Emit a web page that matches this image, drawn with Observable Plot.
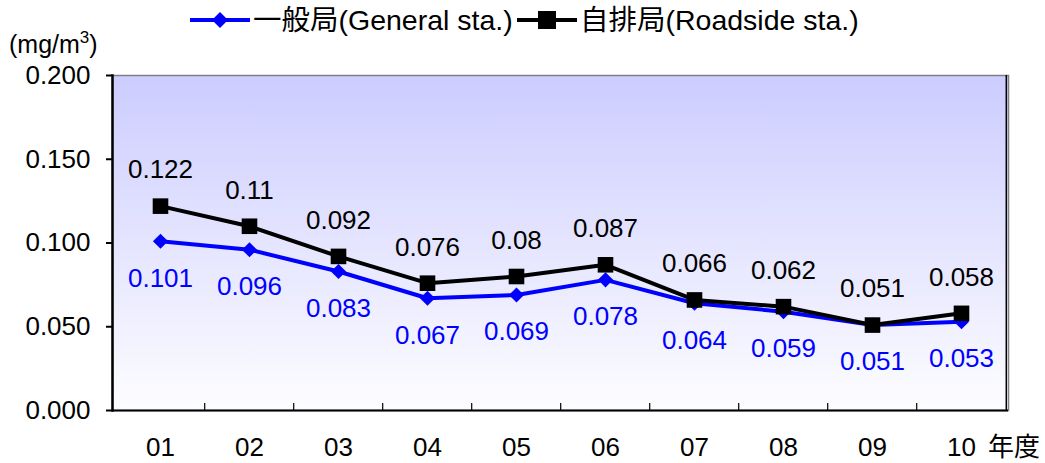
<!DOCTYPE html>
<html><head><meta charset="utf-8">
<script src="https://cdn.jsdelivr.net/npm/d3@7"></script>
<script src="https://cdn.jsdelivr.net/npm/@observablehq/plot@0.6"></script>
<style>
body{margin:0;background:#fff;font-family:"Liberation Sans","Noto Sans CJK JP",sans-serif;}
#wrap{position:relative;width:1045px;height:463px;overflow:hidden;}
.abs{position:absolute;white-space:nowrap;line-height:1;}
</style></head>
<body><div id="wrap"></div>
<script>
const years = ["01","02","03","04","05","06","07","08","09","10"];
const general = [0.101,0.096,0.083,0.067,0.069,0.078,0.064,0.059,0.051,0.053];
const roadside = [0.122,0.11,0.092,0.076,0.08,0.087,0.066,0.062,0.051,0.058];
const yTicks = [0,0.05,0.1,0.15,0.2];
const seriesNames = ["一般局(General sta.)","自排局(Roadside sta.)"];
const unitLabel = "(mg/m<sup>3</sup>)";
const xUnit = "年度";

const data = years.map((y,i)=>({year:y, general:general[i], roadside:roadside[i]}));
const BLUE = "#0000ff", BLACK = "#000000";
const FONT = 26;

const svg = Plot.plot({
  width:1045, height:463,
  marginTop:75, marginBottom:53, marginLeft:112, marginRight:37,
  style:{fontFamily:"Liberation Sans, Noto Sans CJK JP, sans-serif", fontSize:FONT+"px", background:"transparent", overflow:"visible"},
  x:{type:"point", domain:years, padding:0.5},
  y:{domain:[0,0.2]},
  marks:[
    Plot.frame({fill:"url(#bgGrad)", stroke:"#808080", strokeWidth:1.5}),
    Plot.ruleX([years[years.length-1]], {dx:44.8, stroke:"#000", strokeWidth:1.5}),
    Plot.tickX(years.slice(1), {x:d=>d, dx:-44.8, insetTop:328, stroke:"#000", strokeWidth:1.2}),
    Plot.axisY(yTicks, {tickFormat:d3.format(".3f"), tickSize:6, tickPadding:16, fontSize:FONT, label:null, stroke:"#000", strokeWidth:2, fill:"#000"}),
    Plot.axisX(years, {tickSize:0, tickPadding:27, fontSize:FONT, label:null, fill:"#000"}),
    Plot.ruleY([0], {stroke:"#000", strokeWidth:2}),
    Plot.frame({anchor:"left", stroke:"#000", strokeWidth:2.5}),
    Plot.line(data, {x:"year", y:"general", stroke:BLUE, strokeWidth:4}),
    Plot.dot(data, {x:"year", y:"general", symbol:"diamond2", r:6.8, fill:BLUE, stroke:"none"}),
    Plot.line(data, {x:"year", y:"roadside", stroke:BLACK, strokeWidth:4}),
    Plot.dot(data, {x:"year", y:"roadside", symbol:"square", r:8.8, fill:BLACK, stroke:"none"}),
    Plot.text(data, {x:"year", y:"general", text:d=>String(d.general), dy:37, fill:BLUE, fontSize:FONT}),
    Plot.text(data, {x:"year", y:"roadside", text:d=>String(d.roadside), dy:-36, fill:BLACK, fontSize:FONT})
  ]
});
const defs = d3.select(svg).insert("defs", ":first-child");
const g = defs.append("linearGradient").attr("id","bgGrad").attr("x1",0).attr("y1",0).attr("x2",0).attr("y2",1);
g.append("stop").attr("offset","0%").attr("stop-color","#ccccff");
g.append("stop").attr("offset","100%").attr("stop-color","#fdfdff");

const wrap = document.getElementById("wrap");
svg.style.position="absolute"; svg.style.left="0"; svg.style.top="0";
wrap.appendChild(svg);

function legendItem(left, color, shape, label){
  const d = document.createElement("div");
  d.className="abs";
  d.style.left=left+"px"; d.style.top="6px"; d.style.display="flex"; d.style.alignItems="center";
  const mk = shape==="diamond"
    ? `<polygon points="30,6 38,14 30,22 22,14" fill="${color}"/>`
    : `<rect x="21" y="5" width="18" height="18" fill="${color}"/>`;
  d.innerHTML = `<svg width="60" height="28"><line x1="0" x2="60" y1="14" y2="14" stroke="${color}" stroke-width="4"/>${mk}</svg><span style="font-size:28.5px;margin-left:3px;color:#000">${label}</span>`;
  wrap.appendChild(d);
}
legendItem(190, BLUE, "diamond", seriesNames[0]);
legendItem(517, BLACK, "square", seriesNames[1]);

const u = document.createElement("div");
u.className="abs"; u.style.left="9px"; u.style.top="32px"; u.style.fontSize="25px";
u.innerHTML = unitLabel.replace("<sup>", "<sup style='font-size:17px;vertical-align:10px;line-height:0'>");
wrap.appendChild(u);

const yu = document.createElement("div");
yu.className="abs"; yu.style.left="988px"; yu.style.top="434px"; yu.style.fontSize="26px";
yu.textContent = xUnit;
wrap.appendChild(yu);
</script></body></html>
